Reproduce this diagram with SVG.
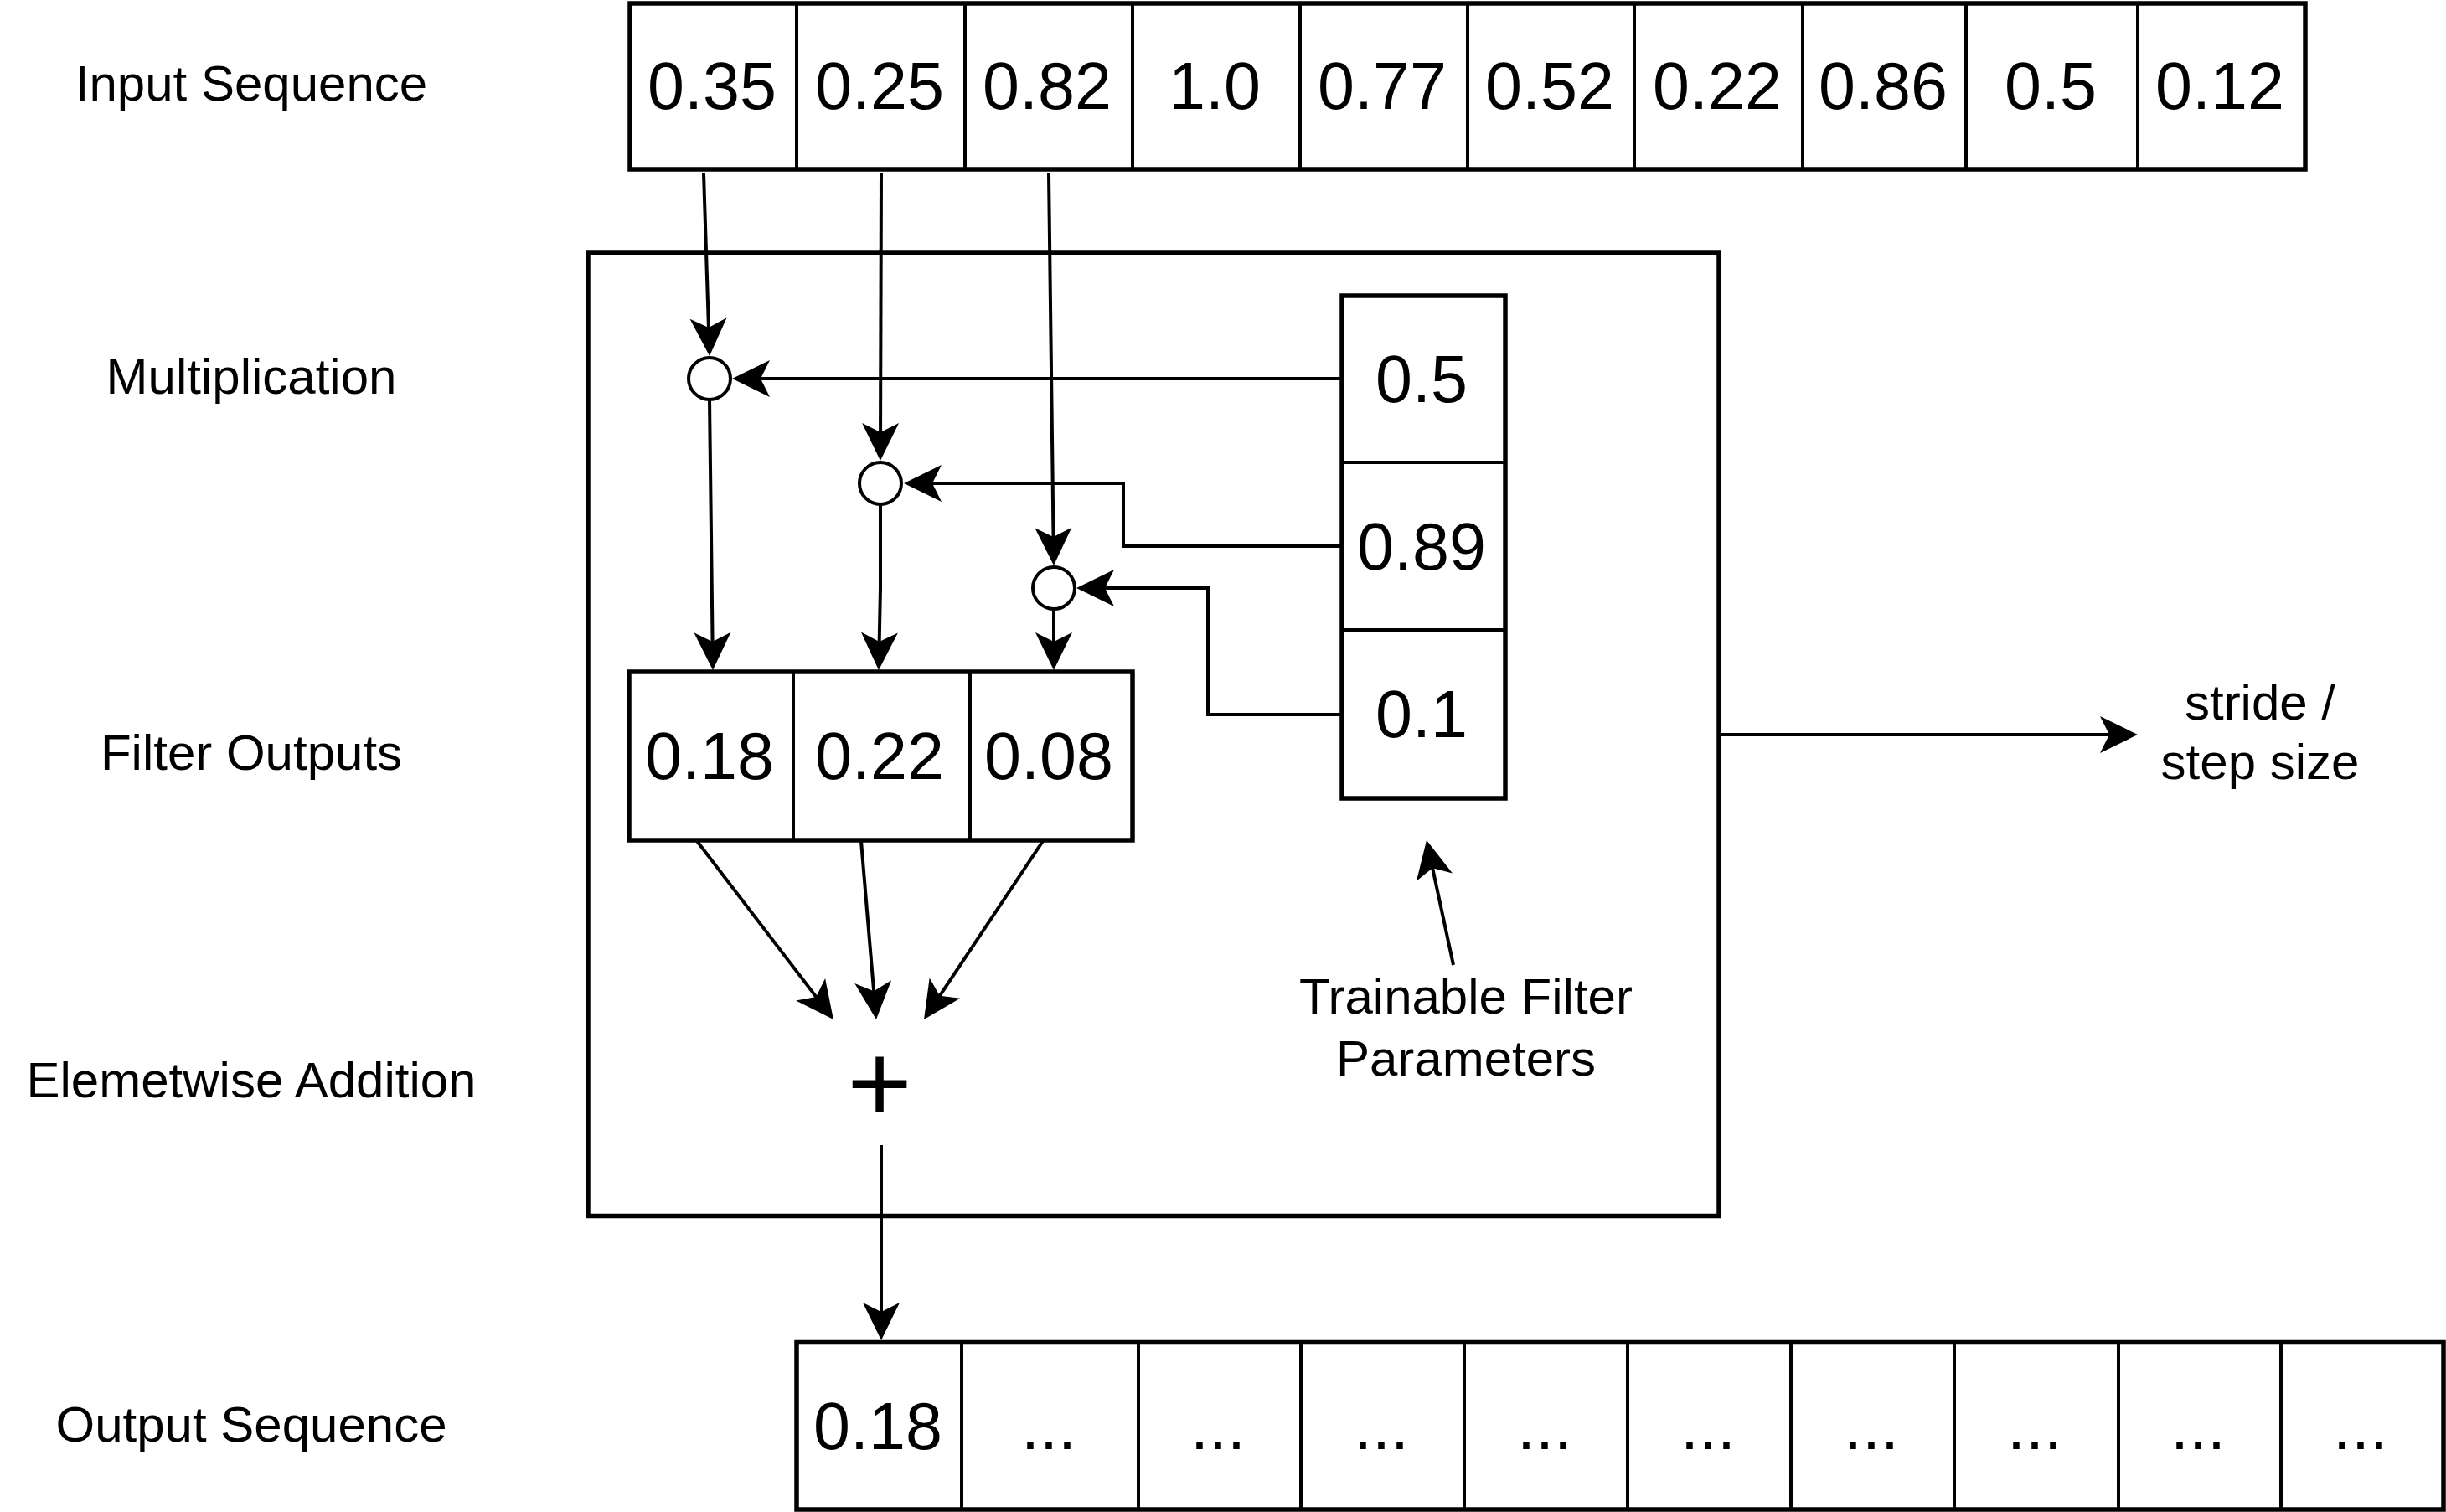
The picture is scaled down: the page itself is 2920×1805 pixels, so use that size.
<svg xmlns="http://www.w3.org/2000/svg" width="2920" height="1805" viewBox="0 0 2920 1805">
  <style>
    .lbl { font-family: "Liberation Sans", Arial, sans-serif; font-size: 60px; fill: #000; text-anchor: middle; }
    .num { font-family: "Liberation Sans", Arial, sans-serif; font-size: 79px; fill: #000; text-anchor: middle; }
    .box { fill: #fff; stroke: #000; stroke-width: 5.5; }
    .div { stroke: #000; stroke-width: 4; fill: none; }
    .op { fill: #fff; stroke: #000; stroke-width: 4; }
    .conn { fill: none; stroke: #000; stroke-width: 4; marker-end: url(#arr); }
  </style>
  <defs>
    <marker id="arr" viewBox="-50 -25 56 50" markerWidth="56" markerHeight="50" refX="-20" refY="0" orient="auto" markerUnits="userSpaceOnUse">
      <path d="M0,0 L-45,-22 L-34,0 L-45,22 Z" fill="#000"/>
    </marker>
  </defs>
  <rect width="2920" height="1805" fill="#fff"/>

  <g id="row-labels">
    <text class="lbl" x="300" y="120">Input Sequence</text>
    <text class="lbl" x="300" y="470">Multiplication</text>
    <text class="lbl" x="300" y="919">Filter Outputs</text>
    <text class="lbl" x="300" y="1310">Elemetwise Addition</text>
    <text class="lbl" x="300" y="1721">Output Sequence</text>
  </g>

  <g id="filter-frame">
    <rect class="box" x="702" y="302" width="1350" height="1149.5"/>
  </g>

  <g id="input-sequence">
    <rect class="box" x="752" y="4" width="2000" height="198"/>
    <path class="div" d="M951,4V202 M1152,4V202 M1352,4V202 M1552,4V202 M1752,4V202 M1951,4V202 M2152,4V202 M2347,4V202 M2552,4V202"/>
    <text class="num" x="850" y="130">0.35</text>
    <text class="num" x="1050" y="130">0.25</text>
    <text class="num" x="1250" y="130">0.82</text>
    <text class="num" x="1450" y="130">1.0</text>
    <text class="num" x="1650" y="130">0.77</text>
    <text class="num" x="1850" y="130">0.52</text>
    <text class="num" x="2050" y="130">0.22</text>
    <text class="num" x="2248" y="130">0.86</text>
    <text class="num" x="2448" y="130">0.5</text>
    <text class="num" x="2650" y="130">0.12</text>
  </g>

  <g id="filter-params">
    <rect class="box" x="1602" y="353" width="195" height="600"/>
    <path class="div" d="M1602,552H1797 M1602,752H1797"/>
    <text class="num" x="1697" y="480">0.5</text>
    <text class="num" x="1697" y="680">0.89</text>
    <text class="num" x="1697" y="880">0.1</text>
  </g>

  <g id="mult-1"><circle class="op" cx="847" cy="452" r="25"/></g>
  <g id="mult-2"><circle class="op" cx="1051" cy="577" r="25"/></g>
  <g id="mult-3"><circle class="op" cx="1258" cy="702" r="25"/></g>

  <g id="filter-outputs">
    <rect class="box" x="751" y="802" width="601" height="201"/>
    <path class="div" d="M947,802V1003 M1158,802V1003"/>
    <text class="num" x="847" y="930">0.18</text>
    <text class="num" x="1050" y="930">0.22</text>
    <text class="num" x="1252" y="930">0.08</text>
  </g>

  <g id="addition">
    <text x="1050" y="1339" font-family="Liberation Sans, Arial, sans-serif" font-size="133" text-anchor="middle">+</text>
  </g>

  <g id="trainable-label">
    <text class="lbl" x="1750" y="1210">Trainable Filter</text>
    <text class="lbl" x="1750" y="1284">Parameters</text>
  </g>

  <g id="stride-label">
    <text class="lbl" x="2698" y="859">stride /</text>
    <text class="lbl" x="2698" y="930">step size</text>
  </g>

  <g id="output-sequence">
    <rect class="box" x="951" y="1602.5" width="1966" height="199.5"/>
    <path class="div" d="M1148,1602V1802 M1359,1602V1802 M1553,1602V1802 M1748,1602V1802 M1943,1602V1802 M2138,1602V1802 M2333,1602V1802 M2529,1602V1802 M2723,1602V1802"/>
    <text class="num" x="1048" y="1730">0.18</text>
    <text class="num" x="1252" y="1730">...</text>
    <text class="num" x="1454" y="1730">...</text>
    <text class="num" x="1649" y="1730">...</text>
    <text class="num" x="1844" y="1730">...</text>
    <text class="num" x="2039" y="1730">...</text>
    <text class="num" x="2234" y="1730">...</text>
    <text class="num" x="2429" y="1730">...</text>
    <text class="num" x="2624" y="1730">...</text>
    <text class="num" x="2818" y="1730">...</text>
  </g>

  <g id="connectors">
    <path class="conn" d="M840,207 L846.4,405"/>
    <path class="conn" d="M1052,207 L1051,530"/>
    <path class="conn" d="M1252,207 L1257.7,655"/>
    <path class="conn" d="M1602,452 L894,452"/>
    <path class="conn" d="M1602,652 L1341,652 L1341,577 L1099,577"/>
    <path class="conn" d="M1602,853 L1442,853 L1442,702 L1305,702"/>
    <path class="conn" d="M847,477 L850.75,780"/>
    <path class="conn" d="M1051,602 L1051,702 L1049.4,780"/>
    <path class="conn" d="M1258,727 L1258,780"/>
    <path class="conn" d="M832,1004 L982.8,1201.1"/>
    <path class="conn" d="M1028,1004 L1044.3,1197.1"/>
    <path class="conn" d="M1245,1004 L1114.1,1200.4"/>
    <path class="conn" d="M1052,1367 L1052,1580"/>
    <path class="conn" d="M2052,877 L2532,877"/>
    <path class="conn" d="M1735,1152 L1707.2,1022.6"/>
  </g>
</svg>
